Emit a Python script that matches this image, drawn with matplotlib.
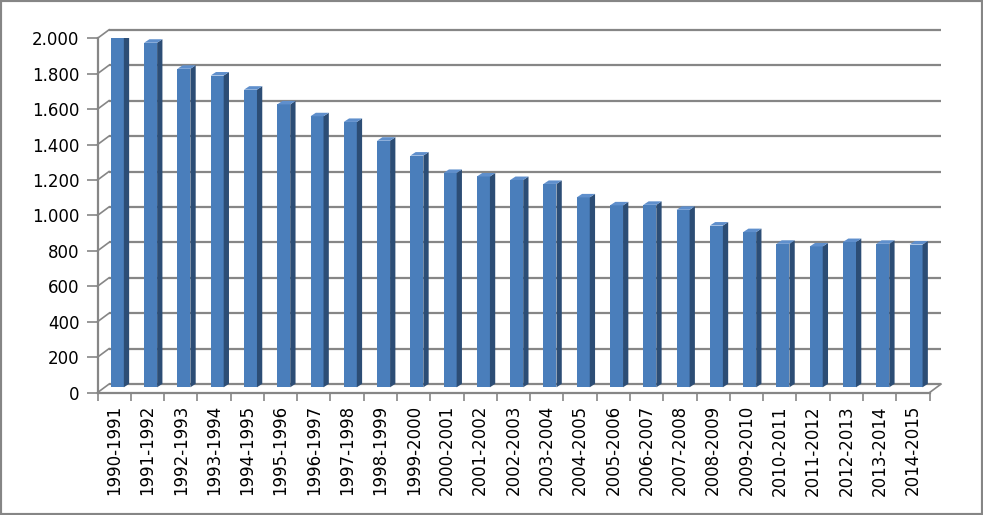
import numpy as np
import matplotlib.pyplot as plt
from matplotlib.patches import Polygon, Rectangle

# data
seasons = ['1990-1991', '1991-1992', '1992-1993', '1993-1994', '1994-1995',
           '1995-1996', '1996-1997', '1997-1998', '1998-1999', '1999-2000',
           '2000-2001', '2001-2002', '2002-2003', '2003-2004', '2004-2005',
           '2005-2006', '2006-2007', '2007-2008', '2008-2009', '2009-2010',
           '2010-2011', '2011-2012', '2012-2013', '2013-2014', '2014-2015']
values = [1975, 1945, 1798, 1760, 1680, 1597, 1530, 1498, 1392, 1308,
          1210, 1190, 1170, 1148, 1072, 1027, 1030, 1002, 913, 876,
          810, 795, 820, 810, 806]
y_ticks = [0, 200, 400, 600, 800, 1000, 1200, 1400, 1600, 1800, 2000]

W, H = 983, 515
fig = plt.figure(figsize=(W / 100, H / 100), dpi=100)

# front plane of the 3D box, in pixels
left, right, y0, y2000 = 97.5, 929.5, 392.6, 38.3
ax = fig.add_axes([left / W, (H - y0) / H, (right - left) / W, (y0 - y2000) / H])
n = len(seasons)
ax.set_xlim(0, n)
ax.set_ylim(0, 2000)

# pixel -> data units
PX = n / (right - left)
PY = 2000 / (y0 - y2000)

grid_col = '#868686'
wall_dx, wall_dy = 11.5 * PX, 8.5 * PY

# back wall gridlines and side wall lines
for v in y_ticks:
    ax.plot([wall_dx, n + wall_dx], [v + wall_dy, v + wall_dy], color=grid_col,
            lw=1.6, zorder=1, clip_on=False, solid_capstyle='butt')
    ax.plot([0, wall_dx], [v, v + wall_dy], color=grid_col, lw=1.2, zorder=1,
            clip_on=False)
# floor right edge
ax.plot([n, n + wall_dx], [0, wall_dy], color=grid_col, lw=1.2, zorder=1, clip_on=False)

# bars
x = np.arange(n) + 0.5
bx, by = 3.2 * PX, 5.3 * PY
bw = 13.0 * PX
ddx, ddy = 5.3 * PX, 3.5 * PY
ax.bar(x + bx, values, width=bw, bottom=by, color='#4a7ebb', zorder=3,
       edgecolor='none')
for xi, v in zip(x + bx, values):
    xl, xr = xi - bw / 2, xi + bw / 2
    side = Polygon([(xr, by), (xr + ddx, by + ddy), (xr + ddx, by + ddy + v), (xr, by + v)],
                   closed=True, facecolor='#2c4d75', edgecolor='none', zorder=3)
    top = Polygon([(xl, by + v), (xr, by + v), (xr + ddx, by + v + ddy), (xl + ddx, by + v + ddy)],
                  closed=True, facecolor='#5f8fcc', edgecolor='none', zorder=3)
    ax.add_patch(side)
    ax.add_patch(top)

# front axes
for s in ['top', 'right']:
    ax.spines[s].set_visible(False)
for s in ['left', 'bottom']:
    ax.spines[s].set_color(grid_col)
    ax.spines[s].set_linewidth(1.6)
    ax.spines[s].set_zorder(4)

ax.set_yticks(y_ticks)
ax.set_yticklabels([f'{v:,}'.replace(',', '.') for v in y_ticks])
ax.tick_params(axis='y', length=8, width=1.2, color=grid_col, pad=5,
               labelsize=12, labelcolor='black')

ax.set_xticks(x)
ax.set_xticklabels(seasons, rotation=90)
ax.set_xticks(np.arange(n + 1), minor=True)
ax.tick_params(axis='x', which='major', length=0, pad=9, labelsize=12,
               labelcolor='black')
ax.tick_params(axis='x', which='minor', length=6, width=1.2, color=grid_col)

# chart border
fig.patches.append(Rectangle((0, 0), 1, 1, transform=fig.transFigure, fill=False,
                             edgecolor=grid_col, lw=3))

fig.savefig('out.png', dpi=100)
